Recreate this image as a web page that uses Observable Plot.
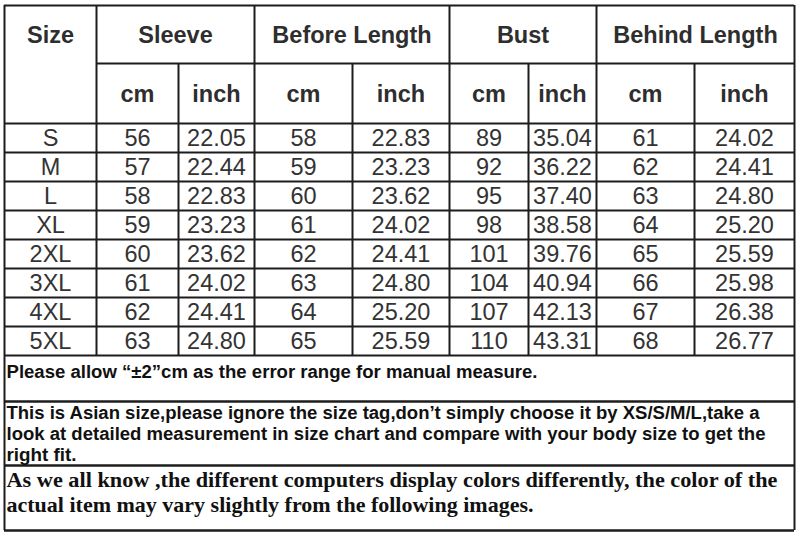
<!DOCTYPE html>
<html>
<head>
<meta charset="utf-8">
<script src="https://cdn.jsdelivr.net/npm/d3@7"></script>
<script src="https://cdn.jsdelivr.net/npm/@observablehq/plot@0.6"></script>
<style>
  html, body { margin: 0; padding: 0; background: #fff; }
  svg { display: block; }
</style>
</head>
<body>
<div id="chart"></div>
<script>
// ---- data ----
const sizes = ["S", "M", "L", "XL", "2XL", "3XL", "4XL", "5XL"];
const sleeveCm = ["56", "57", "58", "59", "60", "61", "62", "63"];
const sleeveIn = ["22.05", "22.44", "22.83", "23.23", "23.62", "24.02", "24.41", "24.80"];
const beforeCm = ["58", "59", "60", "61", "62", "63", "64", "65"];
const beforeIn = ["22.83", "23.23", "23.62", "24.02", "24.41", "24.80", "25.20", "25.59"];
const bustCm = ["89", "92", "95", "98", "101", "104", "107", "110"];
const bustIn = ["35.04", "36.22", "37.40", "38.58", "39.76", "40.94", "42.13", "43.31"];
const behindCm = ["61", "62", "63", "64", "65", "66", "67", "68"];
const behindIn = ["24.02", "24.41", "24.80", "25.20", "25.59", "25.98", "26.38", "26.77"];
const sizeHeader = "Size";
const groupHeaders = ["Sleeve", "Before Length", "Bust", "Behind Length"];
const unitHeaders = ["cm", "inch"];
const note1 = ["Please allow \u201C\u00B12\u201Dcm as the error range for manual measure."];
const note2 = [
  "This is Asian size,please ignore the size tag,don\u2019t simply choose it by XS/S/M/L,take a",
  "look at detailed measurement in size chart and compare with your body size to get the",
  "right fit."
];
const note3 = [
  "As we all know ,the different computers display colors differently, the color of the",
  "actual item may vary slightly from the following images."
];

// ---- layout (positions in table coordinates) ----
const colEdges = [4, 96, 178, 254, 352, 449, 528, 596, 694, 794];
const tableTop = 5, headSplit = 63, bodyTop = 123, rowH = 29;
const bodyBottom = bodyTop + rowH * sizes.length;
const noteEdges = [bodyBottom, 401, 465, 530];
const note1Len = [531];
const note2Len = [753, 759, 70];
const note3Len = [771, 527];

const columns = [sizes, sleeveCm, sleeveIn, beforeCm, beforeIn, bustCm, bustIn, behindCm, behindIn];

const hLines = [
  {y: tableTop, x1: colEdges[0], x2: colEdges[9], w: 2},
  {y: headSplit, x1: colEdges[1], x2: colEdges[9], w: 2},
  ...d3.range(sizes.length + 1).map(i => ({y: bodyTop + i * rowH, x1: colEdges[0], x2: colEdges[9], w: 2})),
  ...noteEdges.slice(1).map(y => ({y, x1: colEdges[0], x2: colEdges[9], w: 2.6}))
];
const vLines = [
  {x: colEdges[0], y1: tableTop, y2: noteEdges[3]},
  {x: colEdges[9], y1: tableTop, y2: noteEdges[3]},
  ...[1, 3, 5, 7].map(i => ({x: colEdges[i], y1: tableTop, y2: bodyBottom})),
  ...[2, 4, 6, 8].map(i => ({x: colEdges[i], y1: headSplit, y2: bodyBottom}))
];

const mid = (a, b) => (a + b) / 2;
const groupCells = groupHeaders.map((t, g) => ({text: t, x: mid(colEdges[1 + 2 * g], colEdges[3 + 2 * g]), y: mid(tableTop, headSplit)}));
groupCells.push({text: sizeHeader, x: mid(colEdges[0], colEdges[1]), y: mid(tableTop, headSplit)});
const unitCells = d3.range(8).map(i => ({text: unitHeaders[i % 2], x: mid(colEdges[i + 1], colEdges[i + 2]), y: mid(headSplit, bodyTop)}));
const bodyCells = [];
columns.forEach((col, c) => col.forEach((v, r) => bodyCells.push({
  text: v, x: mid(colEdges[c], colEdges[c + 1]), y: bodyTop + r * rowH + rowH / 2 + 0.5
})));
const n1 = note1.map((t, i) => ({text: t, x: 6, y: 372}));
const n2 = note2.map((t, i) => ({text: t, x: 6, y: 413 + i * 21}));
const n3 = note3.map((t, i) => ({text: t, x: 6, y: 480 + i * 25}));

const sans = "Liberation Sans, Arial, Helvetica, sans-serif";
const serif = "Liberation Serif, Times New Roman, serif";

const chart = Plot.plot({
  width: 800,
  height: 535,
  margin: 0,
  style: {background: "#fff"},
  x: {domain: [0, 800], range: [0, 800], axis: null},
  y: {domain: [0, 535], range: [0, 535], axis: null},
  marks: [
    Plot.ruleY(hLines, {y: "y", x1: "x1", x2: "x2", stroke: "#1c1c1c", strokeWidth: "w"}),
    Plot.ruleX(vLines, {x: "x", y1: "y1", y2: "y2", stroke: "#1c1c1c", strokeWidth: 2}),
    Plot.text(groupCells, {x: "x", y: "y", text: "text", fontSize: 23.5, fontWeight: "bold", fill: "#2e2e2e", fontFamily: sans, dy: 1}),
    Plot.text(unitCells, {x: "x", y: "y", text: "text", fontSize: 23.5, fontWeight: "bold", fill: "#2e2e2e", fontFamily: sans, dy: 1}),
    Plot.text(bodyCells, {x: "x", y: "y", text: "text", fontSize: 23.5, fill: "#333", fontFamily: sans}),
    Plot.text(n1, {x: "x", y: "y", text: "text", textAnchor: "start", fontSize: 18, fontWeight: "bold", fill: "#111", fontFamily: sans, ariaDescription: "note1"}),
    Plot.text(n2, {x: "x", y: "y", text: "text", textAnchor: "start", fontSize: 18, fontWeight: "bold", fill: "#111", fontFamily: sans, ariaDescription: "note2"}),
    Plot.text(n3, {x: "x", y: "y", text: "text", textAnchor: "start", fontSize: 21, fontWeight: "bold", fill: "#111", fontFamily: serif, ariaDescription: "note3"})
  ]
});

// fit note lines to their measured widths
[["note1", note1Len], ["note2", note2Len], ["note3", note3Len]].forEach(([label, lens]) => {
  d3.select(chart).selectAll(`g[aria-description="${label}"] text`).each(function(_, i) {
    d3.select(this).attr("textLength", lens[i]).attr("lengthAdjust", "spacingAndGlyphs");
  });
});

document.getElementById("chart").appendChild(chart);
</script>
</body>
</html>
